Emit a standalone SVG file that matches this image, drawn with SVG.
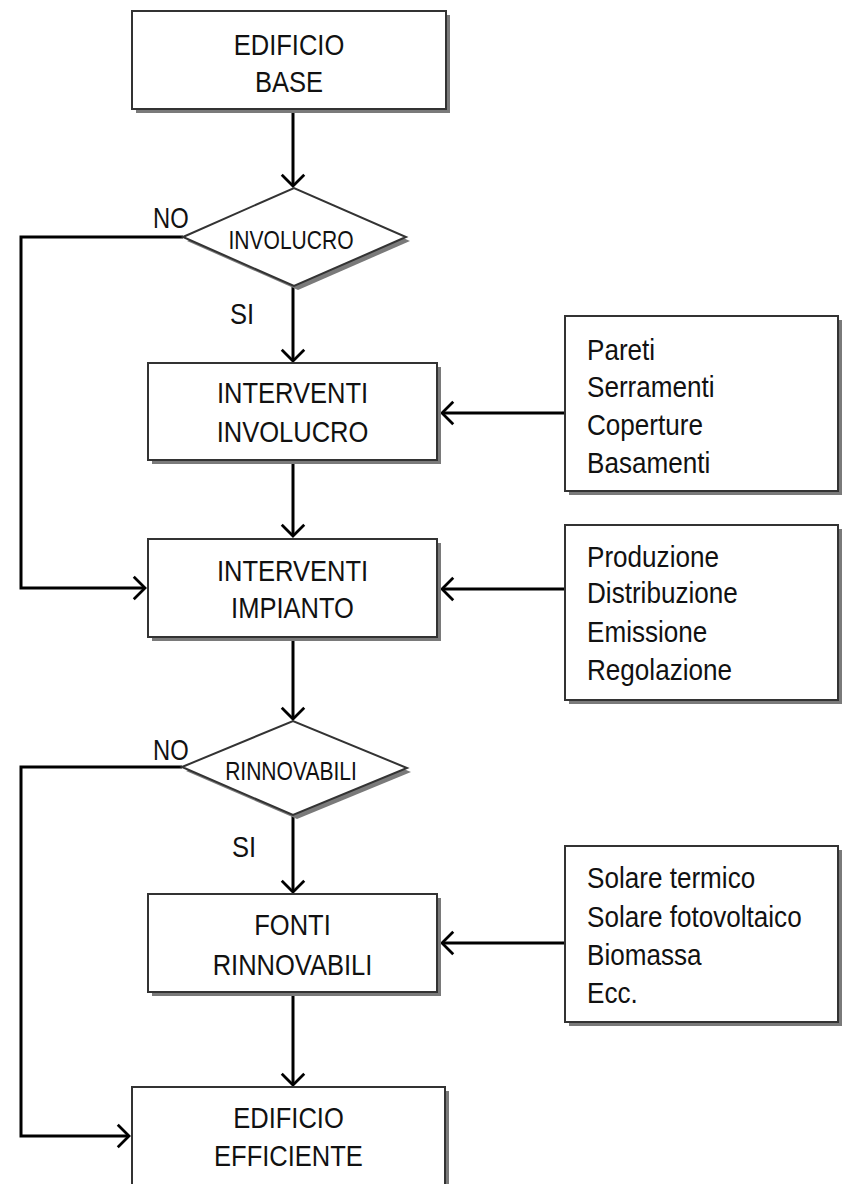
<svg xmlns="http://www.w3.org/2000/svg" width="842" height="1184" viewBox="0 0 842 1184">
<style>
.box{fill:#fff;stroke:#333;stroke-width:2}
.shadow{fill:#7a7a7a;stroke:none}
.t{font-family:"Liberation Sans",Arial,sans-serif;font-size:29px;fill:#111}
.c{text-anchor:middle}
.d{font-family:"Liberation Sans",Arial,sans-serif;font-size:26px;fill:#111;text-anchor:middle}
.conn{fill:none;stroke:#000;stroke-width:3}
</style>
<defs>
<marker id="arr" markerUnits="userSpaceOnUse" markerWidth="30" markerHeight="30" viewBox="-16 -16 32 32" refX="0" refY="0" orient="auto">
<path d="M-12,-12 L0,0 L-12,12" fill="none" stroke="#000" stroke-width="3"/>
</marker>
</defs>
<rect width="842" height="1184" fill="#fff"/>

<g id="connectors">
<path class="conn" d="M293,109 L293,186" marker-end="url(#arr)"/>
<path class="conn" d="M293,286 L293,361" marker-end="url(#arr)"/>
<path class="conn" d="M293,461 L293,536" marker-end="url(#arr)"/>
<path class="conn" d="M293,638 L293,719" marker-end="url(#arr)"/>
<path class="conn" d="M293,815 L293,892" marker-end="url(#arr)"/>
<path class="conn" d="M293,993 L293,1085" marker-end="url(#arr)"/>
<path class="conn" d="M183,237 L21,237 L21,588 L145,588" marker-end="url(#arr)"/>
<path class="conn" d="M182,767 L21,767 L21,1136 L129,1136" marker-end="url(#arr)"/>
<path class="conn" d="M565,413 L442,413" marker-end="url(#arr)"/>
<path class="conn" d="M565,589 L442,589" marker-end="url(#arr)"/>
<path class="conn" d="M565,943 L442,943" marker-end="url(#arr)"/>
</g>

<g id="edificio-base">
<rect class="shadow" x="136" y="15" width="314" height="98"/>
<rect class="box" x="132" y="11" width="314" height="98"/>
<text class="t c" transform="translate(289,55) scale(0.88,1)">EDIFICIO</text>
<text class="t c" transform="translate(289,92) scale(0.88,1)">BASE</text>
</g>

<g id="dec-involucro">
<polygon class="shadow" points="187,241 298,192 410,241 298,290"/>
<polygon class="box" points="183,237 294,188 406,237 294,286"/>
<text class="d" transform="translate(291,249) scale(0.81,1)">INVOLUCRO</text>
<text class="t" transform="translate(153,228) scale(0.82,1)">NO</text>
<text class="t" transform="translate(230,324) scale(0.88,1)">SI</text>
</g>

<g id="interventi-involucro">
<rect class="shadow" x="152" y="367" width="289" height="97"/>
<rect class="box" x="148" y="363" width="289" height="97"/>
<text class="t c" transform="translate(292.5,403) scale(0.88,1)">INTERVENTI</text>
<text class="t c" transform="translate(292.5,442) scale(0.88,1)">INVOLUCRO</text>
</g>

<g id="list-involucro">
<rect class="shadow" x="569" y="320" width="275" height="175"/>
<rect class="box" x="565" y="316" width="273" height="175"/>
<text class="t" transform="translate(587,360) scale(0.9,1)">Pareti</text>
<text class="t" transform="translate(587,397) scale(0.9,1)">Serramenti</text>
<text class="t" transform="translate(587,435) scale(0.9,1)">Coperture</text>
<text class="t" transform="translate(587,473) scale(0.9,1)">Basamenti</text>
</g>

<g id="interventi-impianto">
<rect class="shadow" x="152" y="543" width="289" height="98"/>
<rect class="box" x="148" y="539" width="289" height="98"/>
<text class="t c" transform="translate(292.5,581) scale(0.88,1)">INTERVENTI</text>
<text class="t c" transform="translate(292.5,618) scale(0.88,1)">IMPIANTO</text>
</g>

<g id="list-impianto">
<rect class="shadow" x="569" y="529" width="275" height="175"/>
<rect class="box" x="565" y="525" width="273" height="175"/>
<text class="t" transform="translate(587,567) scale(0.9,1)">Produzione</text>
<text class="t" transform="translate(587,603) scale(0.9,1)">Distribuzione</text>
<text class="t" transform="translate(587,642) scale(0.9,1)">Emissione</text>
<text class="t" transform="translate(587,680) scale(0.9,1)">Regolazione</text>
</g>

<g id="dec-rinnovabili">
<polygon class="shadow" points="186,771 297,725 411,772 297,819"/>
<polygon class="box" points="182,767 293,721 407,768 293,815"/>
<text class="d" transform="translate(291,780) scale(0.81,1)">RINNOVABILI</text>
<text class="t" transform="translate(153,760) scale(0.82,1)">NO</text>
<text class="t" transform="translate(232,857) scale(0.88,1)">SI</text>
</g>

<g id="fonti-rinnovabili">
<rect class="shadow" x="152" y="898" width="289" height="98"/>
<rect class="box" x="148" y="894" width="289" height="98"/>
<text class="t c" transform="translate(292.5,935) scale(0.88,1)">FONTI</text>
<text class="t c" transform="translate(292.5,975) scale(0.88,1)">RINNOVABILI</text>
</g>

<g id="list-rinnovabili">
<rect class="shadow" x="569" y="850" width="275" height="176"/>
<rect class="box" x="565" y="846" width="273" height="176"/>
<text class="t" transform="translate(587,888) scale(0.9,1)">Solare termico</text>
<text class="t" transform="translate(587,927) scale(0.9,1)">Solare fotovoltaico</text>
<text class="t" transform="translate(587,965) scale(0.9,1)">Biomassa</text>
<text class="t" transform="translate(587,1003) scale(0.9,1)">Ecc.</text>
</g>

<g id="edificio-efficiente">
<rect class="shadow" x="136" y="1091" width="313" height="110"/>
<rect class="box" x="132" y="1087" width="313" height="110"/>
<text class="t c" transform="translate(288.5,1128) scale(0.88,1)">EDIFICIO</text>
<text class="t c" transform="translate(288.5,1166) scale(0.88,1)">EFFICIENTE</text>
</g>
</svg>
